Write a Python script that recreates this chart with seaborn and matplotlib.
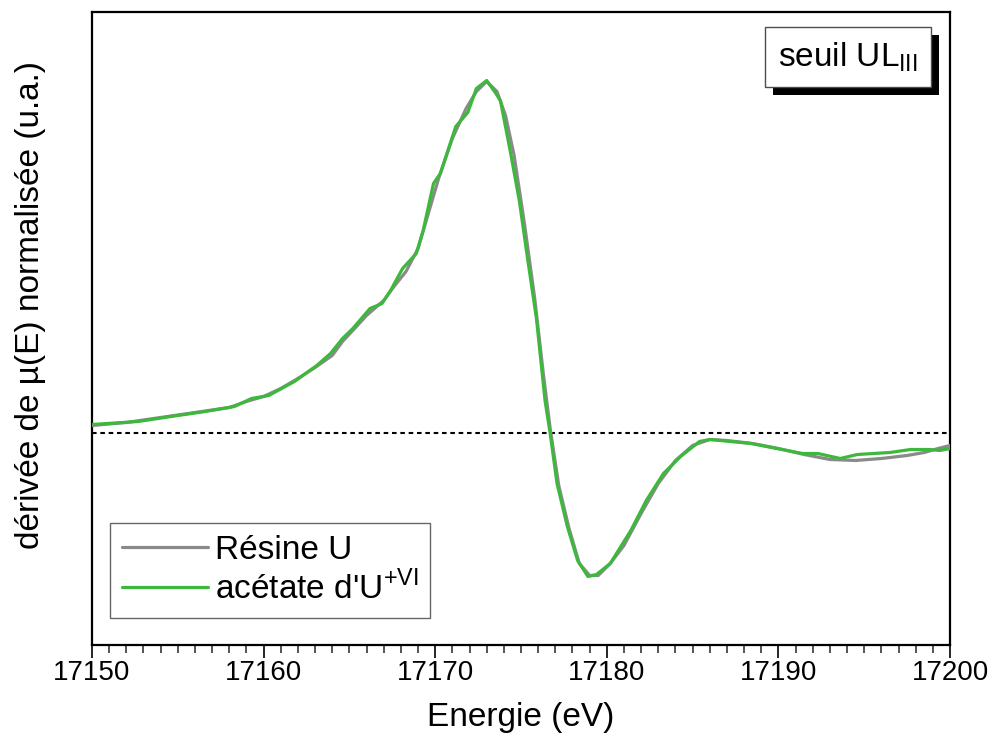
import matplotlib
matplotlib.use("Agg")
import matplotlib.pyplot as plt
import matplotlib.patheffects as pe
from matplotlib.ticker import MultipleLocator
import pandas as pd
import seaborn as sns

# energie (eV) et derivee normalisee
E_resine = [17150, 17152, 17154, 17156, 17158, 17159, 17160, 17161, 17162, 17163,
            17164, 17164.6, 17165.2, 17166, 17167, 17167.6, 17168.3, 17169, 17169.6, 17170.2,
            17171, 17171.8, 17172.4, 17173, 17173.6, 17174.1, 17174.6, 17175.2, 17175.8, 17176.3,
            17176.7, 17177.2, 17177.8, 17178.4, 17179, 17179.5, 17180.2, 17181, 17182, 17183,
            17184, 17185, 17186, 17187, 17188.5, 17190, 17191.5, 17193, 17194.5, 17196,
            17197.5, 17198.5, 17199.3, 17200]
y_resine = [0.08, 0.11, 0.16, 0.21, 0.26, 0.32, 0.37, 0.45, 0.55, 0.66,
            0.78, 0.92, 1.03, 1.18, 1.33, 1.47, 1.62, 1.85, 2.20, 2.55,
            2.95, 3.25, 3.42, 3.52, 3.42, 3.18, 2.78, 2.10, 1.35, 0.60,
            0.05, -0.52, -0.95, -1.30, -1.42, -1.42, -1.30, -1.12, -0.80, -0.50,
            -0.27, -0.12, -0.06, -0.07, -0.10, -0.15, -0.21, -0.26, -0.27, -0.25,
            -0.22, -0.19, -0.15, -0.12]

E_acetate = [17150, 17152.7, 17154.6, 17156.6, 17158.3, 17159.3, 17160.3, 17161.8, 17163.1, 17163.9,
             17164.6, 17165.2, 17166.2, 17166.9, 17167.4, 17168.1, 17168.9, 17169.3, 17169.9, 17170.3,
             17171.2, 17171.9, 17172.4, 17173.0, 17173.5, 17173.8, 17174.4, 17174.9, 17175.4, 17175.9,
             17176.4, 17176.7, 17177.1, 17177.7, 17178.3, 17178.9, 17179.4, 17180.2, 17181.4, 17182.3,
             17183.3, 17184.3, 17185.4, 17186.0, 17188.4, 17191.4, 17192.3, 17193.6, 17194.6, 17196.5,
             17197.7, 17198.8, 17199.4, 17200]
y_acetate = [0.09, 0.12, 0.17, 0.22, 0.27, 0.35, 0.38, 0.52, 0.68, 0.80,
             0.95, 1.05, 1.25, 1.30, 1.43, 1.65, 1.80, 2.03, 2.50, 2.60,
             3.07, 3.21, 3.45, 3.53, 3.41, 3.33, 2.80, 2.33, 1.73, 1.15,
             0.33, 0.0, -0.50, -0.93, -1.27, -1.43, -1.41, -1.30, -0.97, -0.67,
             -0.40, -0.23, -0.08, -0.06, -0.10, -0.20, -0.20, -0.25, -0.21, -0.19,
             -0.16, -0.16, -0.17, -0.15]

LABELS = ["Résine U", r"acétate d'U$^{\mathrm{+VI}}$"]
COLORS = ["#8a8a8a", "#3db83d"]

df = pd.concat([
    pd.DataFrame({"E": E_resine, "y": y_resine, "ech": LABELS[0]}),
    pd.DataFrame({"E": E_acetate, "y": y_acetate, "ech": LABELS[1]}),
])

sns.set_theme(style="white")
plt.rcParams["font.family"] = ["Liberation Sans", "DejaVu Sans"]
plt.rcParams["mathtext.fontset"] = "custom"
plt.rcParams["mathtext.rm"] = "Liberation Sans"
plt.rcParams["text.color"] = "black"

fig = plt.figure(figsize=(9.92, 7.46), dpi=100)
ax = fig.add_axes([0.0927, 0.1354, 0.865, 0.8485])

ax.axhline(0, color="black", lw=1.5, dashes=(2.2, 1.8), zorder=1)

sns.lineplot(data=df, x="E", y="y", hue="ech", palette=COLORS, sort=False,
             estimator=None, linewidth=2.3, ax=ax, zorder=3)

ax.set_xlim(17150, 17200)
ax.set_ylim(-2.115, 4.215)
ax.xaxis.set_major_locator(MultipleLocator(10))
ax.xaxis.set_minor_locator(MultipleLocator(1))
ax.set_yticks([])
ax.tick_params(axis="x", which="major", direction="out", length=9, width=1.2,
               labelsize=20, pad=1.5, bottom=True, colors="black")
ax.tick_params(axis="x", which="minor", direction="out", length=5.5, width=1.1, bottom=True)
for s in ax.spines.values():
    s.set_color("black")
    s.set_linewidth(1.6)

ax.set_xlabel("Energie (eV)", fontsize=24, labelpad=12, color="black")
ax.set_ylabel("dérivée de µ(E) normalisée (u.a.)", fontsize=24, color="black")
ax.yaxis.set_label_coords(-0.053, 0.537)

leg = ax.legend(loc="lower left", bbox_to_anchor=(0.021, 0.043), borderaxespad=0,
                fontsize=24, frameon=True, fancybox=False, framealpha=1,
                edgecolor="0.4", handlelength=2.6, handletextpad=0.2,
                labelspacing=0.15, borderpad=0.35)
leg.get_frame().set_linewidth(1.0)
for line in leg.get_lines():
    line.set_linewidth(2.3)

t = ax.text(0.881, 0.929, r"seuil UL$_{\mathrm{III}}$", transform=ax.transAxes,
            ha="center", va="center", fontsize=24, zorder=5,
            bbox=dict(boxstyle="square,pad=0.4", facecolor="white",
                      edgecolor="0.3", linewidth=1.0))
t.get_bbox_patch().set_path_effects([
    pe.SimplePatchShadow(offset=(6, -6), shadow_rgbFace="black", alpha=1),
    pe.Normal(),
])

fig.savefig("out.png", dpi=100)
